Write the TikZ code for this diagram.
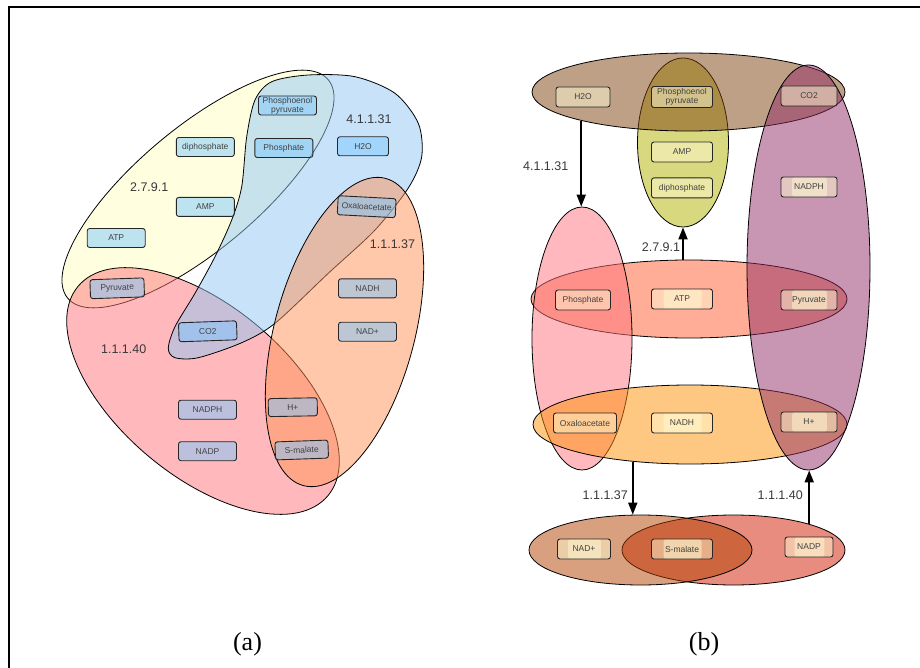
\documentclass[tikz,border=0pt]{standalone}
\usepackage{fontspec}
\setmainfont{Liberation Serif}
\setsansfont{Liberation Sans}
\usetikzlibrary{arrows.meta,positioning,shapes.geometric,calc}
% set colours, (a)
\definecolor{setyellow}{HTML}{FFFFC1}
\definecolor{setpink}{HTML}{FF7379}
\definecolor{setblue}{HTML}{91C5F5}
\definecolor{setorange}{HTML}{FF9155}
\definecolor{boxblue}{HTML}{7DC8FF}
% set colours, (b)
\definecolor{rxAMP}{HTML}{B1B100}
\definecolor{rxTop}{HTML}{7D410F}
\definecolor{rxATP}{HTML}{FF5B2D}
\definecolor{rxPink}{HTML}{FF737D}
\definecolor{rxNADH}{HTML}{FF9105}
\definecolor{rxPurple}{HTML}{912D65}
\definecolor{rxNADP}{HTML}{D11900}
\definecolor{rxNADplus}{HTML}{B34100}
\definecolor{boxcream}{HTML}{FFFAD2}

\begin{document}
\begin{tikzpicture}[x=1pt,y=-1pt,font=\sffamily\fontsize{8.5}{9}\selectfont,
  set/.style={draw=black,line width=.8pt,fill opacity=.5},
  blob/.style={set,ellipse,inner sep=0pt},
  met/.style={draw=black!85,line width=.9pt,rounded corners=2.5pt,fill=boxblue,fill opacity=.5,text opacity=1,text=black!74,minimum width=58pt,minimum height=19pt,inner sep=0pt,align=center},
  metb/.style={met,fill=boxcream,minimum width=61pt,minimum height=20pt},
  hl/.style={path picture={\fill[boxcream] ($(path picture bounding box.south west)!.2!(path picture bounding box.south east)$) rectangle ($(path picture bounding box.north west)!.82!(path picture bounding box.north east)$);}},
  ec/.style={text=black!78,font=\sffamily\fontsize{12.5}{13}\selectfont,inner sep=1pt},
  ar/.style={-{Triangle[length=12pt,width=9pt]},line width=1.8pt}]
\useasboundingbox (0,0) rectangle (920,668);
\draw[line width=1.4pt] (9,668) -- (9,7) -- (920,7);

% (a) overlapping reaction sets
\draw[set,fill=setyellow,rotate around={40:(198,189)}] (198,189) ellipse [x radius=170pt,y radius=61pt];
\draw[set,fill=setpink,rotate around={-40:(203,391)}] (203,391) ellipse [x radius=163pt,y radius=85pt];
\draw[set,fill=setblue] plot[smooth cycle] coordinates {(246.7,136.7) (255,100) (271.7,81.7) (308.3,75) (355,76.7) (395,93.3) (418.3,123.3) (421.7,156.7) (408.3,188) (375,230) (328.3,273.3) (275,323.3) (241.7,342.7) (198.3,357.7) (175,357.7) (168.3,348.3) (175,326.7) (195,293.3) (215,256.7) (231.7,220) (241.7,186.7)};
\draw[set,fill=setorange,rotate around={75:(344.5,332)}] (344.5,332) ellipse [x radius=159pt,y radius=70pt];

\node[met] (aPEP) at (287.5,105.5) {Phosphoenol\\pyruvate};
\node[met] (aDiP) at (205.3,147) {diphosphate};
\node[met] (aPi) at (283.8,148) {Phosphate};
\node[met,minimum width=51pt] (aH2O) at (363,146.3) {H2O};
\node[met,below=40pt of aDiP] (aAMP) {AMP};
\node[met] (aATP) at (116.2,238) {ATP};
\node[met,rotate=-3] (aOAA) at (366.7,206.7) {Oxaloacetate};
\node[met] (aNADH) at (367.5,288.3) {NADH};
\node[met,below=23.5pt of aNADH] (aNADp) {NAD+};
\node[met,minimum width=54pt,rotate=2] (aPyr) at (117.2,288.3) {Pyruvate};
\node[met,rotate=2] (aCO2) at (207.8,331.3) {CO2};
\node[met] (aNADPH) at (207.5,409.7) {NADPH};
\node[met,below=21.6pt of aNADPH] (aNADP) {NADP};
\node[met,minimum width=49pt,minimum height=18pt,rotate=1] (aHp) at (292.8,407.2) {H+};
\node[met,minimum width=53pt,minimum height=18pt,rotate=2] (aMal) at (301.7,450) {S-malate};

\node[ec] (a2791) at (149.2,186.7) {2.7.9.1};
\node[ec] (a41131) at (369,119.3) {4.1.1.31};
\node[ec] (a11137) at (392.5,244.3) {1.1.1.37};
\node[ec] (a11140) at (123.7,349.3) {1.1.1.40};

% (b) metabolite groups linked by reactions
\node[blob,fill=rxAMP,minimum width=91pt,minimum height=169pt] (eAMP) at (683,142.5) {};
\node[blob,fill=rxTop,minimum width=313pt,minimum height=78pt] (eTop) at (688.5,92) {};
\node[blob,fill=rxATP,minimum width=316pt,minimum height=78pt] (eATP) at (689,299) {};
\node[blob,fill=rxPink,minimum width=100pt,minimum height=263pt] (ePink) at (582,338.5) {};
\node[blob,fill=rxNADH,minimum width=314pt,minimum height=79pt] (eNADH) at (690,424.5) {};
\node[blob,fill=rxPurple,minimum width=123pt,minimum height=405pt] (ePurple) at (808.5,267.5) {};
\node[blob,fill=rxNADP,minimum width=223pt,minimum height=70pt] (eNADP) at (733.5,550) {};
\node[blob,fill=rxNADplus,minimum width=223pt,minimum height=70pt] (eNADplus) at (640.5,550) {};

\node[metb,minimum width=54pt] (bH2O) at (583,97) {H2O};
\node[metb,minimum height=21pt] (bPEP) at (682,97) {Phosphoenol\\pyruvate};
\node[metb,minimum width=56pt] (bCO2) at (809,96) {CO2};
\node[metb] (bAMP) at (682,152) {AMP};
\node[metb,below=15pt of bAMP] (bDiP) {diphosphate};
\node[metb,hl,minimum width=56pt] (bNADPH) at (809,187) {NADPH};
\node[metb,minimum width=55pt] (bPi) at (583,300) {Phosphate};
\node[metb,hl] (bATP) at (682,299) {ATP};
\node[metb,hl,minimum width=56pt] (bPyr) at (809,300) {Pyruvate};
\node[metb,minimum width=63pt] (bOAA) at (585,423) {Oxaloacetate};
\node[metb,hl] (bNADH) at (682,423) {NADH};
\node[metb,hl,minimum width=56pt] (bHp) at (809,422) {H+};
\node[metb,hl,minimum width=53pt] (bNADp) at (584,549) {NAD+};
\node[metb,hl] (bMal) at (682,549) {S-malate};
\node[metb,hl,minimum width=48pt] (bNADP) at (809,547) {NADP};

\draw[ar] (eTop.195) -- (eTop.195 |- ePink.north) node[ec,left=11pt,pos=.53]{4.1.1.31};
\draw[ar] (eAMP.south |- eATP.north) -- (eAMP.south) node[ec,left=1pt,pos=.4]{2.7.9.1};
\draw[ar] (eNADH.213) -- (eNADH.213 |- eNADplus.north) node[ec,left=3pt,pos=.63]{1.1.1.37};
\draw[ar] (eNADP.19) -- (eNADP.19 |- ePurple.south) node[ec,left=4.5pt,pos=.54]{1.1.1.40};

\node[font=\rmfamily\fontsize{26}{28}\selectfont] (capA) at (247.5,644) {(a)};
\node[font=\rmfamily\fontsize{26}{28}\selectfont] (capB) at (704,644) {(b)};
\end{tikzpicture}
\end{document}
